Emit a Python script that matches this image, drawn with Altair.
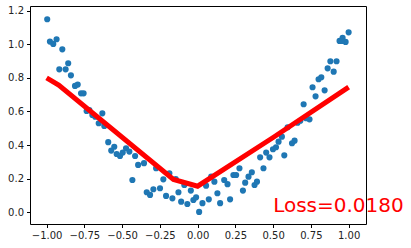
import altair as alt
import pandas as pd

# scatter data
xs = [-0.996, -0.978, -0.956, -0.934, -0.916, -0.896, -0.874, -0.857, -0.839, -0.812,
      -0.794, -0.772, -0.755, -0.735, -0.717, -0.697, -0.678, -0.655, -0.631, -0.618,
      -0.592, -0.572, -0.552, -0.536, -0.514, -0.496, -0.474, -0.452, -0.432, -0.414,
      -0.394, -0.355, -0.337, -0.315, -0.293, -0.275, -0.249, -0.227, -0.209, -0.187,
      -0.167, -0.145, -0.127, -0.109, -0.088, -0.068, -0.045, -0.028, -0.010, 0.010,
      0.032, 0.056, 0.074, 0.090, 0.111, 0.131, 0.149, 0.176, 0.198, 0.215,
      0.237, 0.255, 0.277, 0.300, 0.315, 0.337, 0.359, 0.377, 0.393, 0.414,
      0.436, 0.454, 0.476, 0.499, 0.519, 0.536, 0.558, 0.574, 0.596, 0.625,
      0.642, 0.662, 0.680, 0.702, 0.719, 0.741, 0.761, 0.781, 0.801, 0.819,
      0.841, 0.861, 0.879, 0.901, 0.920, 0.940, 0.960, 0.980, 1.000, 0.955]
ys = [1.149, 1.016, 1.002, 1.030, 0.851, 0.970, 0.851, 0.887, 0.815, 0.752,
      0.760, 0.708, 0.708, 0.603, 0.609, 0.579, 0.569, 0.530, 0.589, 0.514,
      0.417, 0.367, 0.390, 0.347, 0.335, 0.355, 0.381, 0.361, 0.192, 0.335,
      0.282, 0.292, 0.119, 0.103, 0.137, 0.262, 0.143, 0.196, 0.097, 0.232,
      0.083, 0.198, 0.119, 0.063, 0.162, 0.049, 0.129, 0.073, 0.089, 0.002,
      0.054, 0.158, 0.077, 0.212, 0.182, 0.113, 0.054, 0.192, 0.167, 0.077,
      0.222, 0.222, 0.262, 0.129, 0.176, 0.212, 0.238, 0.162, 0.182, 0.327,
      0.262, 0.355, 0.327, 0.375, 0.387, 0.420, 0.450, 0.339, 0.506, 0.411,
      0.426, 0.533, 0.545, 0.643, 0.560, 0.553, 0.744, 0.690, 0.792, 0.804,
      0.726, 0.857, 0.899, 0.837, 0.899, 1.020, 1.039, 1.014, 1.071, 1.020]

# fitted line (piecewise linear)
line_x = [-1.0, -0.92, -0.16, 0.0, 0.5, 1.0]
line_y = [0.80, 0.757, 0.195, 0.155, 0.445, 0.745]

loss_text = ["Loss=0.0180"]
text_x = [0.5]
text_y = [0.0]

x_ticks = [-1.0, -0.75, -0.5, -0.25, 0.0, 0.25, 0.5, 0.75, 1.0]
y_ticks = [0.0, 0.2, 0.4, 0.6, 0.8, 1.0, 1.2]

pts = pd.DataFrame({"x": xs, "y": ys})
ln = pd.DataFrame({"x": line_x, "y": line_y})
tx = pd.DataFrame({"x": text_x, "y": text_y, "t": loss_text})

xscale = alt.Scale(domain=[-1.11, 1.115], nice=False, zero=False)
yscale = alt.Scale(domain=[-0.07, 1.228], nice=False, zero=False)

xaxis = alt.Axis(values=x_ticks, format=".2f", title=None, labelOverlap=False)
yaxis = alt.Axis(values=y_ticks, format=".1f", title=None, labelOverlap=False)

scatter = alt.Chart(pts).mark_circle(size=38, color="#1f77b4", opacity=1).encode(
    x=alt.X("x:Q", scale=xscale, axis=xaxis),
    y=alt.Y("y:Q", scale=yscale, axis=yaxis),
)

line = alt.Chart(ln).mark_line(color="#ff0000", strokeWidth=5, strokeCap="butt").encode(
    x=alt.X("x:Q", scale=xscale, axis=xaxis),
    y=alt.Y("y:Q", scale=yscale, axis=yaxis),
)

text = alt.Chart(tx).mark_text(color="#ff0000", fontSize=20, font="DejaVu Sans",
                               align="left", baseline="alphabetic").encode(
    x=alt.X("x:Q", scale=xscale, axis=xaxis),
    y=alt.Y("y:Q", scale=yscale, axis=yaxis),
    text="t:N",
)

chart = alt.layer(scatter, line, text).properties(
    width=336, height=218,
    background="white",
    autosize=alt.AutoSizeParams(type="none"),
    padding={"left": 30, "top": 6, "right": 45, "bottom": 24},
).configure_view(stroke="black", strokeWidth=1).configure_axis(
    grid=False, domain=False, tickSize=3.5, tickColor="black", labelPadding=3,
    labelFontSize=10, labelFont="DejaVu Sans", labelColor="#222222",
    labelFlush=False, labelOverlap=False,
)

chart.save("out.html", embed_options={"renderer": "svg", "actions": False})
